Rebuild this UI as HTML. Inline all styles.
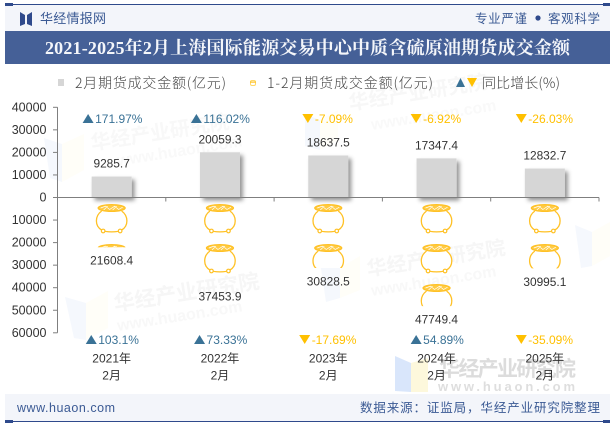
<!DOCTYPE html>
<html lang="zh-CN">
<head>
<meta charset="utf-8">
<title>上海国际能源交易中心中质含硫原油期货成交金额</title>
<style>
html,body{margin:0;padding:0;background:#fff;}
body{width:615px;height:427px;overflow:hidden;}
svg{display:block;font-family:"Liberation Sans","Noto Sans CJK SC",sans-serif;}
.cjk{font-family:"Noto Sans CJK SC","WenQuanYi Zen Hei",sans-serif;font-weight:300;}
</style>
</head>
<body>
<svg id="chart" width="615" height="427" viewBox="0 0 615 427" xmlns="http://www.w3.org/2000/svg">
  <defs>
    <filter id="bar-shadow" x="-30%" y="-30%" width="170%" height="170%">
      <feDropShadow dx="3" dy="3" stdDeviation="2" flood-color="#000" flood-opacity="0.42"/>
    </filter>
    <symbol id="pot" viewBox="0 0 32 30" width="32" height="30" overflow="visible">
      <path d="M6 7 C-1 12 -1 22 6 26 C10 28.5 22 28.5 26 26 C33 22 33 12 26 7" fill="#fff" stroke="#ffc125" stroke-width="1.3"/>
      <circle cx="7.5" cy="27" r="1.8" fill="#fff" stroke="#ffc125" stroke-width="1.2"/>
      <circle cx="24.5" cy="27" r="1.8" fill="#fff" stroke="#ffc125" stroke-width="1.2"/>
      <ellipse cx="16" cy="4" rx="13.5" ry="3.4" fill="#ffcb45" stroke="#ffc125" stroke-width="1.3"/>
      <path d="M5 4 L10 2.2 L14 5.5 L19 2.2 L23 5.5 L27 3.2 M8 6 L12 2.2 M17 6 L21 2.2" fill="none" stroke="#fff" stroke-width="0.7"/>
    </symbol>
  </defs>

  <g font-weight="700">
    <g>
      <polygon points="44,138 62,144 62,182 50,178" fill="#f5f8fd"/><polygon points="62,144 84,134 84,170 62,182" fill="#fffef8"/>
    </g>
    <text transform="translate(92,150) rotate(-9)" font-size="20" fill="#f8f8f8">华经产业研究院</text>
    <text transform="translate(118,166) rotate(-9)" font-size="16" fill="#f9f9f9">www.huaon.com</text>
    <g>
      <polygon points="305,114 320,120 320,150 305,146" fill="#f5f8fd"/><polygon points="320,120 338,110 338,140 320,150" fill="#fffef8"/>
    </g>
    <text transform="translate(350,110) rotate(-9)" font-size="20" fill="#f7f7f7">华经产业研究院</text>
    <text transform="translate(372,130) rotate(-9)" font-size="16" fill="#f9f9f9">www.huaon.com</text>
    <g>
      <polygon points="65,297 86,303 86,340 74,338" fill="#f5f8fd"/><polygon points="86,303 108,291 108,328 86,340" fill="#fffef8"/>
    </g>
    <text transform="translate(115,311) rotate(-9)" font-size="21" fill="#f6f6f6">华经产业研究院</text>
    <text transform="translate(118,331) rotate(-9)" font-size="16" fill="#f8f8f8">www.huaon.com</text>
    <g>
      <polygon points="320,262 340,268 340,298 326,302" fill="#f5f8fd"/><polygon points="340,268 360,256 360,290 340,298" fill="#fffef8"/>
    </g>
    <text transform="translate(368,276) rotate(-9)" font-size="20" fill="#f6f6f6">华经产业研究院</text>
    <text transform="translate(372,296) rotate(-9)" font-size="16" fill="#f8f8f8">www.huaon.com</text>
    <g>
      <polygon points="575,225 592,232 592,266 581,268" fill="#f5f8fd"/><polygon points="592,232 610,222 610,256 592,266" fill="#fffef8"/>
    </g>
    <g>
      <polygon points="395,356 411,363 411,392 395,391" fill="#d9e6fb"/><polygon points="411,363 428,358 428,392 411,392" fill="#fdf8dc"/>
    </g>
    <text x="439" y="376" font-size="21" fill="#dcdcdc" textLength="137">华经产业研究院</text>
    <text x="438" y="391" font-size="13" fill="#dedede" textLength="137">www.huaon.com</text>
  </g>

  <rect x="5" y="4" width="605" height="27" fill="#f3f5fa"/>
  <rect x="5" y="4" width="605" height="1" fill="#2f4a8c"/>
  <rect x="5" y="3" width="8" height="3" fill="#2f4a8c"/>
  <rect x="603" y="3" width="7" height="3" fill="#2f4a8c"/>
  <g>
    <polygon points="20,12 25,15 25,24 20,26" fill="#2f4a8c"/>
    <polygon points="32,12 27,15 27,24 32,26" fill="#2f4a8c"/>
  </g>
  <text x="40" y="23" font-size="13" fill="#3b5a94" textLength="66">华经情报网</text>
  <text x="475" y="23" font-size="12.5" fill="#3b5a94" textLength="52">专业严谨</text>
  <circle cx="538" cy="18" r="2.6" fill="#2f4a8c"/>
  <text x="548" y="23" font-size="12.5" fill="#3b5a94" textLength="52">客观科学</text>

  <rect x="5" y="31" width="605" height="33" fill="#456097"/>
  <text x="45" y="54" font-size="18" font-weight="700" fill="#f4f6fa" textLength="525" style="font-family:'Liberation Serif','Noto Serif CJK SC',serif">2021-2025年2月上海国际能源交易中心中质含硫原油期货成交金额</text>

  <g>
    <rect x="58" y="79" width="6" height="7" fill="#d6d6d6"/>
    <text class="cjk" x="75" y="88" font-size="14" fill="#444" textLength="151">2月期货成交金额(亿元)</text>
    <g>
      <rect x="250.5" y="80.5" width="5" height="5" rx="1.5" fill="#fff" stroke="#ffd768"/>
      <rect x="250" y="81.5" width="6" height="1.2" fill="#ffc125"/>
    </g>
    <text class="cjk" x="267" y="88" font-size="14" fill="#444" textLength="166">1-2月期货成交金额(亿元)</text>
    <polygon points="456,87 465,87 460.5,78" fill="#3a7296"/>
    <polygon points="467,78 477,78 472,87" fill="#ffc000"/>
    <text class="cjk" x="482" y="88" font-size="14" fill="#444" textLength="78">同比增长(%)</text>
  </g>

  <g id="plot"></g>

  <rect x="5" y="394" width="605" height="27" fill="#f3f5fa"/>
  <rect x="5" y="421" width="605" height="1" fill="#2f4a8c"/>
  <rect x="5" y="420" width="8" height="3" fill="#2f4a8c"/>
  <rect x="603" y="420" width="7" height="3" fill="#2f4a8c"/>
  <text x="17" y="412" font-size="12.5" font-weight="400" fill="#3b5a94" textLength="98">www.huaon.com</text>
  <text x="360" y="412" font-size="12.5" fill="#3b5a94" textLength="240">数据来源：证监局，华经产业研究院整理</text>
</svg>

<script>
var years = ['2021年', '2022年', '2023年', '2024年', '2025年'];
var months = ['2月', '2月', '2月', '2月', '2月'];
var febValues = [9285.7, 20059.3, 18637.5, 17347.4, 12832.7];
var cumulativeValues = [21608.4, 37453.9, 30828.5, 47749.4, 30995.1];
var febGrowth = [171.97, 116.02, -7.09, -6.92, -26.03];
var cumulativeGrowth = [103.1, 73.33, -17.69, 54.89, -35.09];
var upperTicks = [40000, 30000, 20000, 10000, 0];
var lowerTicks = [10000, 20000, 30000, 40000, 50000, 60000];

var NS = 'http://www.w3.org/2000/svg';
var plot = document.getElementById('plot');
var svgRoot = document.getElementById('chart');
var axisLeft = 57.5, axisRight = 599, zeroY = 197.5, pxPerUnit = 22.55 / 10000;
var bandW = (axisRight - axisLeft) / years.length;
var UP = '#3a7296', DOWN = '#ffc000', TEXT = '#333', AXIS = '#7f7f7f';

function xCenter(i) { return axisLeft + bandW * (i + 0.5); }
function yScale(v) { return zeroY - v * pxPerUnit; }
function make(tag, attrs, parent) {
  var el = document.createElementNS(NS, tag);
  for (var k in attrs) el.setAttribute(k, attrs[k]);
  (parent || plot).appendChild(el);
  return el;
}
function label(x, y, str, size, fill, anchor) {
  var t = make('text', { x: x, y: y, 'font-size': size, fill: fill, 'text-anchor': anchor || 'middle' });
  t.textContent = str;
  return t;
}
function growthLabel(i, y, v, name) {
  var cx = xCenter(i), text = v + '%';
  var approx = text.length * 6.3 + 1;
  var start = cx - (approx + 13) / 2;
  var tri = make('polygon', {
    points: v >= 0
      ? start + ',' + (y + 4) + ' ' + (start + 11) + ',' + (y + 4) + ' ' + (start + 5.5) + ',' + (y - 5)
      : start + ',' + (y - 5) + ' ' + (start + 11) + ',' + (y - 5) + ' ' + (start + 5.5) + ',' + (y + 4),
    fill: v >= 0 ? UP : DOWN
  });
  
  
  var t = label(start + 12.5, y + 4, text, 12, v >= 0 ? UP : DOWN, 'start');
  
  
}

upperTicks.concat(lowerTicks).forEach(function (v, idx) {
  var lower = idx >= upperTicks.length;
  var y = yScale(lower ? -v : v);
  var tick = make('line', { x1: 53, x2: axisLeft, y1: y, y2: y, stroke: AXIS });
  
  
  var t = label(46.5, y + 4, String(v), 12.5, TEXT, 'end');
  
  
});

var yAxis = make('line', { x1: axisLeft, x2: axisLeft, y1: yScale(upperTicks[0]), y2: yScale(-lowerTicks[lowerTicks.length - 1]), stroke: AXIS });



var defs = svgRoot.querySelector('defs');

years.forEach(function (yr, i) {
  var cx = xCenter(i);

  var top = yScale(febValues[i]);
  var bar = make('rect', { x: cx - 20, y: top, width: 40, height: zeroY - top, fill: '#d6d6d6', filter: 'url(#bar-shadow)' });
  
  

  var barLabel = label(cx, top - 9, febValues[i].toFixed(1), 11.9, TEXT);
  
  

  var end = yScale(-cumulativeValues[i]);
  var clip = make('clipPath', { id: 'pot-clip-' + i }, defs);
  make('rect', { x: cx - 20, y: zeroY, width: 40, height: end + 1 - zeroY }, clip);
  var potGroup = make('g', { 'clip-path': 'url(#pot-clip-' + i + ')' });
  
  
  for (var py = zeroY + 6.5; py < end + 1; py += 40) {
    make('use', { href: '#pot', x: cx - 16, y: py, width: 32, height: 30 }, potGroup);
  }

  var potLabel = label(cx, end + 18.5, cumulativeValues[i].toFixed(1), 11.9, TEXT);
  
  

  growthLabel(i, 119, febGrowth[i], 'growth-february');
  growthLabel(i, 340, cumulativeGrowth[i], 'growth-cumulative');

  var yl = label(cx, 362.5, yr, 12, TEXT);
  
  
  var ml = label(cx, 379.5, months[i], 12, TEXT);
  
  
});

var xAxis = make('line', { x1: axisLeft, x2: axisRight, y1: zeroY, y2: zeroY, stroke: AXIS });


for (var j = 0; j <= years.length; j++) {
  var tx = axisLeft + bandW * j;
  var xt = make('line', { x1: tx, x2: tx, y1: zeroY, y2: zeroY + 4, stroke: AXIS });
  
  
}
</script>
</body>
</html>
